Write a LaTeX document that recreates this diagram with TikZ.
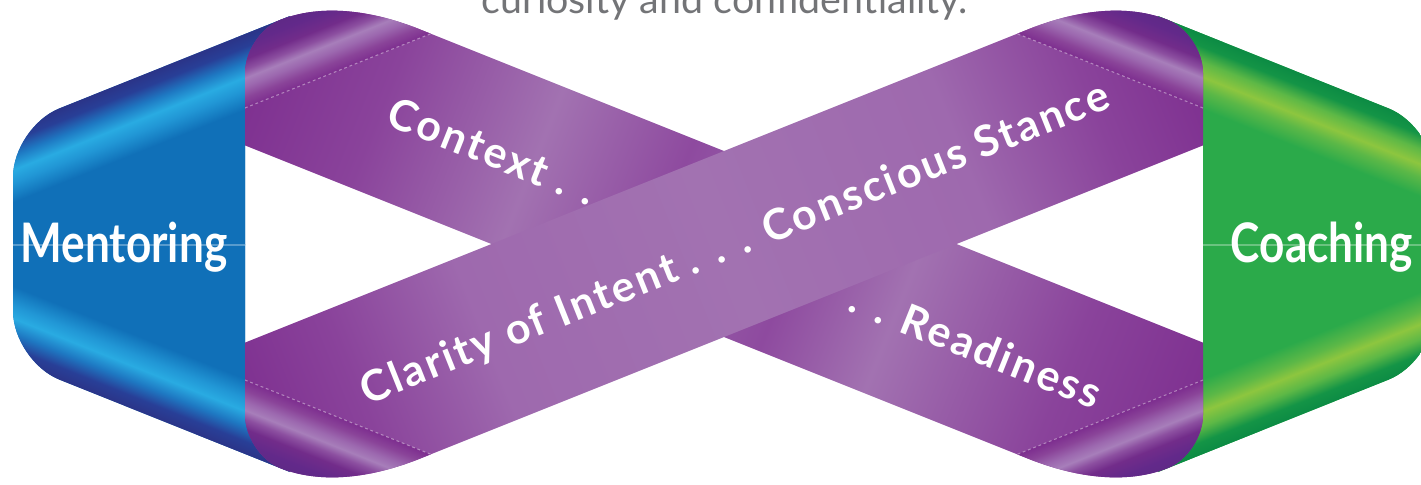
\documentclass[tikz,border=0pt]{standalone}
\usepackage{fontspec}
\setmainfont{Lato}
\newfontfamily\sidefont[FakeStretch=0.81]{Lato}
\newfontfamily\bandfont[LetterSpace=6]{Lato}
\usetikzlibrary{positioning}

\definecolor{navy}{HTML}{2B3488}
\definecolor{bluedark}{HTML}{283F97}
\definecolor{bluemid}{HTML}{1E78C2}
\definecolor{bluecyan}{HTML}{29ABE2}
\definecolor{bluesoft}{HTML}{2196D5}
\definecolor{bluebody}{HTML}{1070B8}
\definecolor{greendeep}{HTML}{0C8B44}
\definecolor{greendark}{HTML}{149446}
\definecolor{greenmid}{HTML}{5DB846}
\definecolor{greenlime}{HTML}{8DC63F}
\definecolor{greensoft}{HTML}{5CB847}
\definecolor{greenbody}{HTML}{2BAA4A}
\definecolor{purpend}{HTML}{7D2E8F}
\definecolor{purpmid}{HTML}{8A439B}
\definecolor{purpsoft}{HTML}{9E69AE}
\definecolor{purplight}{HTML}{A272B1}
\definecolor{purpshade}{HTML}{8E4A9F}
\definecolor{purpcross}{HTML}{9459A6}
\definecolor{foldlow}{HTML}{8A4499}
\definecolor{foldsoft}{HTML}{9C68AF}
\definecolor{foldstreak}{HTML}{A77EBA}
\definecolor{foldmid}{HTML}{8C4FA0}
\definecolor{folddeep}{HTML}{722C8A}
\definecolor{folddark}{HTML}{62298A}
\definecolor{foldtop}{HTML}{5C2A82}
\definecolor{capgray}{HTML}{737477}

\pgfdeclareverticalshading{bluefold}{100bp}{color(0bp)=(bluebody); color(57.5bp)=(bluebody); color(62bp)=(bluesoft); color(65bp)=(bluecyan); color(68.5bp)=(bluemid); color(72bp)=(bluedark); color(75bp)=(navy); color(100bp)=(navy)}
\pgfdeclareverticalshading{greenfold}{100bp}{color(0bp)=(greenbody); color(57.5bp)=(greenbody); color(62bp)=(greensoft); color(65bp)=(greenlime); color(68.5bp)=(greenmid); color(72bp)=(greendark); color(75bp)=(greendeep); color(100bp)=(greendeep)}
\pgfdeclareverticalshading{capfold}{100bp}{color(0bp)=(purpend); color(25bp)=(purpend); color(31bp)=(foldlow); color(37.5bp)=(foldsoft); color(42.5bp)=(foldstreak); color(47.5bp)=(foldmid); color(53.5bp)=(folddeep); color(62.5bp)=(folddark); color(75bp)=(foldtop); color(100bp)=(foldtop)}
\pgfdeclarehorizontalshading{bandAshade}{100bp}{color(0bp)=(purpend); color(29bp)=(purpend); color(35bp)=(purpmid); color(41.6bp)=(purplight); color(47.3bp)=(purpshade); color(50bp)=(purpcross); color(52.9bp)=(purpshade); color(57.5bp)=(purplight); color(64.8bp)=(purpmid); color(71bp)=(purpend); color(100bp)=(purpend)}
\pgfdeclarehorizontalshading{bandBshade}{100bp}{color(0bp)=(purpend); color(29bp)=(purpend); color(34bp)=(purpmid); color(39.6bp)=(purpsoft); color(50bp)=(purplight); color(60.3bp)=(purpsoft); color(66bp)=(purpmid); color(71bp)=(purpend); color(100bp)=(purpend)}

\newcommand\bluepath{(290,16) -- (59.4,108.4) .. controls (33.9,118.6) and (13,149.5) .. (13,177) -- (13,311) .. controls (13,338.5) and (33.9,369.4) .. (59.4,379.6) -- (290,472) -- (255,423) -- (245,408) -- (245,80) -- (255,65) -- cycle}
\newcommand\greenpath{(1158,16) -- (1388.6,108.4) .. controls (1414.1,118.6) and (1435,149.5) .. (1435,177) -- (1435,311) .. controls (1435,338.5) and (1414.1,369.4) .. (1388.6,379.6) -- (1158,472) -- (1193,423) -- (1203,408) -- (1203,80) -- (1193,65) -- cycle}
\newcommand\bandApath{(245,145.4) -- (245,73) .. controls (245,51.5) and (260.7,27.7) .. (280,20) .. controls (317.4,5.05) and (365.3,8.2) .. (417,28.2) -- (1203,342.6) -- (1203,415) .. controls (1203,436.5) and (1187.3,460.3) .. (1168,468) .. controls (1130.6,482.95) and (1082.7,479.8) .. (1031,459.8) -- cycle}
\newcommand\bandBpath{(245,342.6) -- (245,415) .. controls (245,436.5) and (260.7,460.3) .. (280,468) .. controls (317.4,482.95) and (365.3,479.8) .. (417,459.8) -- (1203,145.4) -- (1203,73) .. controls (1203,51.5) and (1187.3,27.7) .. (1168,20) .. controls (1130.6,5.05) and (1082.7,8.2) .. (1031,28.2) -- cycle}
\newcommand\foldTL{(245,108) -- (245,73) .. controls (245,51.5) and (260.7,27.7) .. (280,20) .. controls (317.4,5.05) and (365.3,8.2) .. (417,28.2) -- (430.75,33.7) -- cycle}
\newcommand\foldBR{(1203,380) -- (1203,415) .. controls (1203,436.5) and (1187.3,460.3) .. (1168,468) .. controls (1130.6,482.95) and (1082.7,479.8) .. (1031,459.8) -- (1017.25,454.3) -- cycle}
\newcommand\foldBL{(245,380) -- (245,415) .. controls (245,436.5) and (260.7,460.3) .. (280,468) .. controls (317.4,482.95) and (365.3,479.8) .. (417,459.8) -- (430.75,454.3) -- cycle}
\newcommand\foldTR{(1203,108) -- (1203,73) .. controls (1203,51.5) and (1187.3,27.7) .. (1168,20) .. controls (1130.6,5.05) and (1082.7,8.2) .. (1031,28.2) -- (1017.25,33.7) -- cycle}

\begin{document}
\begin{tikzpicture}[x=0.01cm,y=-0.01cm,
    sidelabel/.style={text=white,font=\sidefont\bfseries\fontsize{15.5}{18}\selectfont,anchor=base,inner sep=0pt},
    bandlabel/.style={text=white,font=\bandfont\bfseries\fontsize{12.2}{14}\selectfont,text height=8.75pt,text depth=0pt,inner sep=0pt},
    toplabel/.style={text=capgray,font=\fontsize{11.2}{13}\selectfont,anchor=base,inner sep=0pt},
    crease/.style={draw=white,opacity=.4,line width=.3pt,dash pattern=on .8pt off .8pt},
    seam/.style={draw=white,opacity=.3,line width=.4pt}]
  \useasboundingbox (0,0) rectangle (1421,484);
  \clip (0,0) rectangle (1421,484);

  % mentoring end
  \begin{scope}
    \clip \bluepath;
    \fill[bluebody] (0,0) rectangle (300,484);
    \begin{scope}
      \clip (0,0) rectangle (300,244);
      \begin{scope}[transform canvas={shift={(245,34)},rotate=21.8}]
        \shade[shading=bluefold] (-300,0) rectangle (100,200);
      \end{scope}
    \end{scope}
    \begin{scope}
      \clip (0,244) rectangle (300,484);
      \begin{scope}[transform canvas={shift={(245,454)},rotate=-21.8,yscale=-1}]
        \shade[shading=bluefold] (-300,0) rectangle (100,200);
      \end{scope}
    \end{scope}
    \draw[seam] (13,245) -- (245,245);
  \end{scope}

  % coaching end
  \begin{scope}
    \clip \greenpath;
    \fill[greenbody] (1150,0) rectangle (1440,484);
    \begin{scope}
      \clip (1150,0) rectangle (1440,244);
      \begin{scope}[transform canvas={shift={(1203,34)},rotate=-21.8}]
        \shade[shading=greenfold] (-100,0) rectangle (300,200);
      \end{scope}
    \end{scope}
    \begin{scope}
      \clip (1150,244) rectangle (1440,484);
      \begin{scope}[transform canvas={shift={(1203,454)},rotate=21.8,yscale=-1}]
        \shade[shading=greenfold] (-100,0) rectangle (300,200);
      \end{scope}
    \end{scope}
    \draw[seam] (1203,245) -- (1435,245);
  \end{scope}

  % band from top left to bottom right
  \begin{scope}
    \clip \bandApath;
    \begin{scope}[transform canvas={shift={(245,52.4)},rotate=-21.8}]
      \shade[shading=bandAshade] (-100,-150) rectangle (1132,150);
    \end{scope}
    \begin{scope}
      \clip \foldTL;
      \begin{scope}[transform canvas={shift={(245,108)},rotate=21.8}]
        \shade[shading=capfold] (-50,-80) rectangle (300,0);
      \end{scope}
    \end{scope}
    \begin{scope}
      \clip \foldBR;
      \begin{scope}[transform canvas={shift={(1203,380)},rotate=21.8,yscale=-1}]
        \shade[shading=capfold] (-300,-80) rectangle (50,0);
      \end{scope}
    \end{scope}
    \draw[crease] (245,108) -- (430.75,33.7);
    \draw[crease] (1203,380) -- (1017.25,454.3);
  \end{scope}

  % band from bottom left to top right
  \begin{scope}
    \clip \bandBpath;
    \begin{scope}[transform canvas={shift={(245,435.6)},rotate=21.8}]
      \shade[shading=bandBshade] (-100,-150) rectangle (1132,150);
    \end{scope}
    \begin{scope}
      \clip \foldBL;
      \begin{scope}[transform canvas={shift={(245,380)},rotate=-21.8,yscale=-1}]
        \shade[shading=capfold] (-50,-80) rectangle (300,0);
      \end{scope}
    \end{scope}
    \begin{scope}
      \clip \foldTR;
      \begin{scope}[transform canvas={shift={(1203,108)},rotate=-21.8}]
        \shade[shading=capfold] (-300,-80) rectangle (50,0);
      \end{scope}
    \end{scope}
    \draw[crease] (245,380) -- (430.75,454.3);
    \draw[crease] (1203,108) -- (1017.25,33.7);
  \end{scope}

  \node[sidelabel] (mentor) at (124,262) {Mentoring};
  \node[sidelabel] (coach) at (1322,262) {Coaching};
  \node[bandlabel,rotate=-21.8] (context) at (492.5,151) {Context . .};
  \node[bandlabel,rotate=21.8] (clarity) at (734,242) {Clarity of Intent . . . Conscious Stance};
  \node[bandlabel,rotate=-21.8] (ready) at (976,346) {. . Readiness};
  \node[toplabel] (curio) at (725,13) {curiosity and confidentiality.};
\end{tikzpicture}
\end{document}
